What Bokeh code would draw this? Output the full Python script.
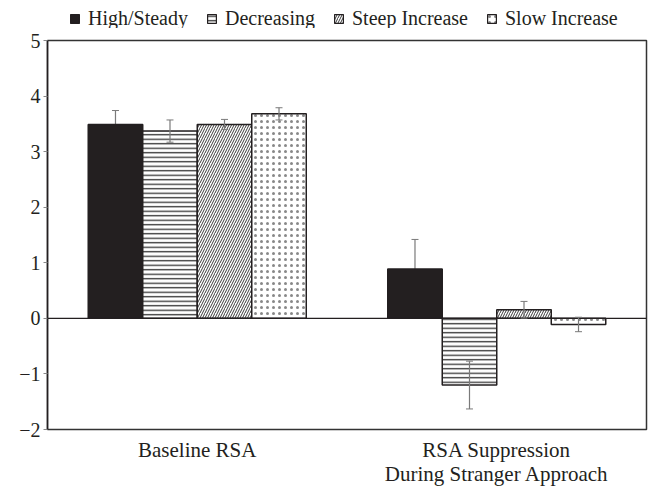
from bokeh.plotting import figure
from bokeh.layouts import column
from bokeh.models import (ColumnDataSource, Whisker, Legend, LegendItem, Span,
                          FixedTicker)
from bokeh.transform import dodge
from bokeh.embed import file_html
from bokeh.resources import INLINE

categories = ["Baseline RSA", "RSA Suppression\nDuring Stranger Approach"]
series = ["High/Steady", "Decreasing", "Steep Increase", "Slow Increase"]
high_steady = [3.49, 0.89]
high_steady_se = [0.25, 0.53]
decreasing = [3.37, -1.20]
decreasing_se = [0.20, 0.43]
steep_increase = [3.49, 0.155]
steep_increase_se = [0.09, 0.15]
slow_increase = [3.68, -0.11]
slow_increase_se = [0.11, 0.13]
y_ticks = [-2, -1, 0, 1, 2, 3, 4, 5]

values = [high_steady, decreasing, steep_increase, slow_increase]
errors = [high_steady_se, decreasing_se, steep_increase_se, slow_increase_se]

FONT = "Liberation Serif"
TXT = "#231f20"
W = 648

p = figure(x_range=categories, y_range=(-2, 5), width=W, height=460,
           output_backend="svg", toolbar_location=None,
           min_border_left=47, min_border_right=2, min_border_top=12,
           min_border_bottom=57)
p.xgrid.visible = False
p.ygrid.visible = False
p.outline_line_color = "#333333"
p.outline_line_width = 1.5
p.background_fill_color = "white"
p.border_fill_color = "white"

bar_w = 0.182
offsets = [-1.5 * bar_w, -0.5 * bar_w, 0.5 * bar_w, 1.5 * bar_w]
styles = [
    dict(fill_color="#231f20", line_color="#231f20"),
    dict(fill_color="white", line_color="#231f20", hatch_pattern="horizontal_line",
         hatch_color="#333333", hatch_scale=4.5, hatch_weight=1.3),
    dict(fill_color="white", line_color="#231f20", hatch_pattern="right_diagonal_line",
         hatch_color="#222222", hatch_scale=5, hatch_weight=0.9),
    dict(fill_color="white", line_color="#231f20", hatch_pattern="dot",
         hatch_color="#888888", hatch_scale=6, hatch_weight=0.4),
]

p.add_layout(Span(location=0, dimension="width", line_color="#231f20", line_width=1.2))

# legend strip above the chart (proxy bars lie outside its visible y range)
lf = figure(width=W, height=28, x_range=categories, y_range=(10, 11),
            output_backend="svg", toolbar_location=None, min_border=0,
            x_axis_location=None, y_axis_location=None)
lf.xgrid.visible = False
lf.ygrid.visible = False
lf.outline_line_color = None
lf.background_fill_color = "white"
lf.border_fill_color = "white"

items = []
for i, name in enumerate(series):
    v = values[i]
    e = errors[i]
    src = ColumnDataSource(dict(cat=categories, val=v,
                                up=[a + b for a, b in zip(v, e)],
                                lo=[a - b for a, b in zip(v, e)]))
    xd = dodge("cat", offsets[i], range=p.x_range)
    p.vbar(x=xd, top="val", bottom=0, width=bar_w, source=src,
           line_width=1.5, **styles[i])
    w = Whisker(base=xd, upper="up", lower="lo", source=src,
                line_color="#7a7a7a", line_width=1.2,
                level="underlay" if i == 0 else "annotation")
    w.upper_head.size = 7
    w.lower_head.size = 7
    w.upper_head.line_color = "#7a7a7a"
    w.lower_head.line_color = "#7a7a7a"
    p.add_layout(w)
    lr = lf.vbar(x=dodge("cat", offsets[i], range=lf.x_range), top="val", bottom=0,
                 width=bar_w, source=src, line_width=1.2, **styles[i])
    items.append(LegendItem(label=name, renderers=[lr]))

legend = Legend(items=items, orientation="horizontal", location=(22, -2),
                glyph_width=11, glyph_height=11, label_standoff=8, spacing=18,
                label_text_font=FONT, label_text_font_size="20px",
                label_text_color=TXT, border_line_color=None,
                background_fill_alpha=0, padding=0, margin=0)
lf.add_layout(legend)

ax = p.yaxis[0]
ax.ticker = FixedTicker(ticks=y_ticks)
ax.major_label_overrides = {t: (str(t).replace("-", "\u2212")) for t in y_ticks}
ax.major_label_text_font = FONT
ax.major_label_text_font_size = "20px"
ax.major_label_text_color = TXT
ax.axis_line_color = "#231f20"
ax.axis_line_width = 1.5
ax.major_tick_in = 0
ax.major_tick_out = 4
ax.major_tick_line_color = "#888888"
ax.minor_tick_line_color = None
ax.major_label_standoff = 3

bx = p.xaxis[0]
bx.major_label_text_font = FONT
bx.major_label_text_font_size = "21px"
bx.major_label_text_line_height = 1.0
bx.major_label_text_color = TXT
bx.axis_line_color = None
bx.major_tick_line_color = None
bx.minor_tick_line_color = None
bx.major_tick_in = 0
bx.major_tick_out = 0
bx.major_label_standoff = 8

layout = column(lf, p, spacing=0)
open("out.html", "w").write(file_html(layout, INLINE))
